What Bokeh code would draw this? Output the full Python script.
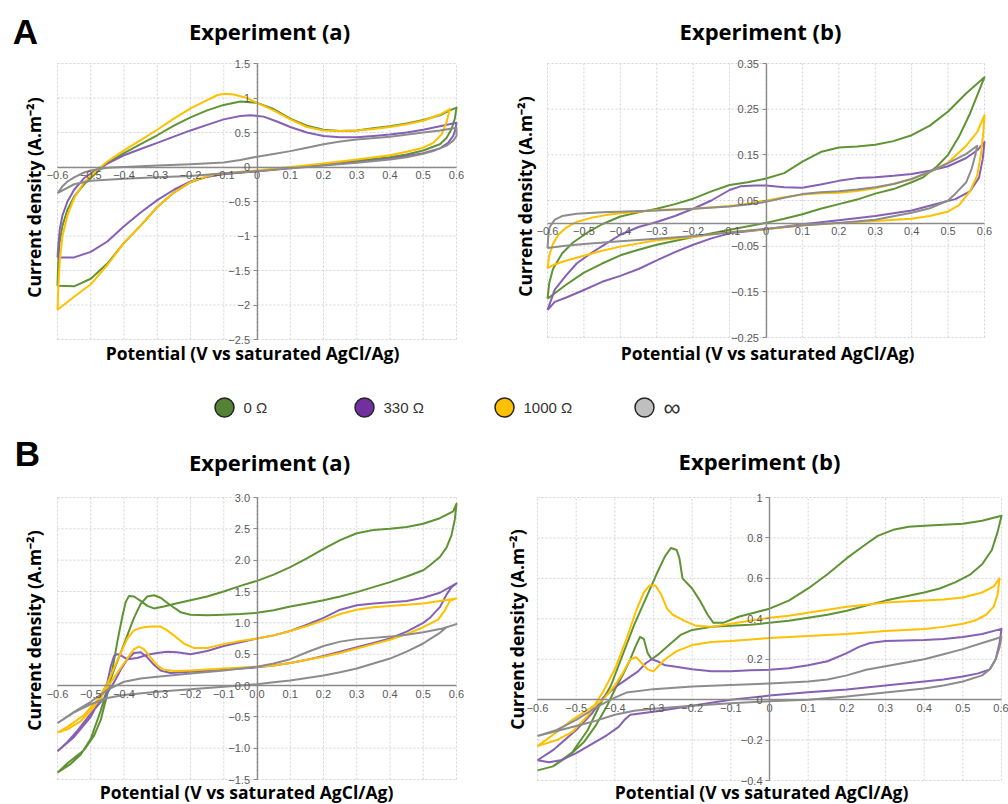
import math
from bokeh.plotting import figure
from bokeh.models import Range1d, FixedTicker, Label, ColumnDataSource
from bokeh.layouts import column, row
from bokeh.embed import file_html
from bokeh.resources import INLINE
from bokeh.core.properties import value

# ---------------- data ----------------
series_names = ["0 Ω", "330 Ω", "1000 Ω", "∞"]
line_colors = ["#5f9334", "#8660b4", "#ffc000", "#8c8c8c"]
marker_colors = ["#548235", "#7030a0", "#ffc000", "#bfbfbf"]

x_ticks = [-0.6, -0.5, -0.4, -0.3, -0.2, -0.1, 0.0, 0.1, 0.2, 0.3, 0.4, 0.5, 0.6]
x_labels_int = ["−0.6", "−0.5", "−0.4", "−0.3", "−0.2", "−0.1", "0", "0.1", "0.2", "0.3", "0.4", "0.5", "0.6"]
x_labels_dec = ["−0.6", "−0.5", "−0.4", "−0.3", "−0.2", "−0.1", "0.0", "0.1", "0.2", "0.3", "0.4", "0.5", "0.6"]

aa_y_ticks = [-2.5, -2.0, -1.5, -1.0, -0.5, 0.0, 0.5, 1.0, 1.5]
aa_y_labels = ["−2.5", "−2", "−1.5", "−1", "−0.5", "0", "0.5", "1", "1.5"]
ab_y_ticks = [-0.25, -0.15, -0.05, 0.05, 0.15, 0.25, 0.35]
ab_y_labels = ["−0.25", "−0.15", "−0.05", "0.05", "0.15", "0.25", "0.35"]
ba_y_ticks = [-1.5, -1.0, -0.5, 0.0, 0.5, 1.0, 1.5, 2.0, 2.5, 3.0]
ba_y_labels = ["−1.5", "−1.0", "−0.5", "0.0", "0.5", "1.0", "1.5", "2.0", "2.5", "3.0"]
bb_y_ticks = [-0.4, -0.2, 0.0, 0.2, 0.4, 0.6, 0.8, 1.0]
bb_y_labels = ["−0.4", "−0.2", "0", "0.2", "0.4", "0.6", "0.8", "1"]

# Panel A, experiment (a): (potential V, current density A/m2) around each loop
aa_0ohm = [(-0.6, -1.72), (-0.598, -1.4), (-0.594, -1.1), (-0.585, -0.85), (-0.57, -0.62), (-0.55, -0.43),
           (-0.52, -0.25), (-0.48, -0.07), (-0.45, 0.06), (-0.4, 0.2), (-0.35, 0.33), (-0.3, 0.46), (-0.25, 0.6),
           (-0.2, 0.72), (-0.15, 0.82), (-0.1, 0.9), (-0.05, 0.95), (0.0, 0.93), (0.05, 0.84), (0.1, 0.7),
           (0.15, 0.6), (0.2, 0.54), (0.25, 0.52), (0.3, 0.53), (0.35, 0.56), (0.4, 0.59), (0.45, 0.63),
           (0.5, 0.68), (0.55, 0.75), (0.58, 0.82), (0.6, 0.86), (0.595, 0.7), (0.585, 0.55), (0.57, 0.42),
           (0.55, 0.33), (0.5, 0.24), (0.45, 0.18), (0.4, 0.14), (0.3, 0.09), (0.2, 0.04), (0.1, -0.01),
           (0.0, -0.06), (-0.1, -0.1), (-0.15, -0.14), (-0.2, -0.22), (-0.25, -0.37), (-0.3, -0.58),
           (-0.35, -0.85), (-0.4, -1.1), (-0.45, -1.4), (-0.5, -1.62), (-0.55, -1.73), (-0.6, -1.72)]
aa_330ohm = [(-0.6, -1.31), (-0.597, -1.1), (-0.593, -0.9), (-0.585, -0.7), (-0.57, -0.5), (-0.55, -0.33),
             (-0.52, -0.16), (-0.48, -0.03), (-0.45, 0.05), (-0.4, 0.17), (-0.35, 0.26), (-0.3, 0.35),
             (-0.25, 0.44), (-0.2, 0.53), (-0.15, 0.61), (-0.1, 0.69), (-0.05, 0.74), (-0.02, 0.75),
             (0.02, 0.73), (0.06, 0.66), (0.1, 0.58), (0.15, 0.5), (0.2, 0.45), (0.25, 0.43), (0.3, 0.43),
             (0.35, 0.45), (0.4, 0.47), (0.45, 0.5), (0.5, 0.54), (0.55, 0.59), (0.6, 0.64), (0.597, 0.55),
             (0.59, 0.45), (0.575, 0.35), (0.55, 0.27), (0.5, 0.2), (0.45, 0.16), (0.4, 0.12), (0.3, 0.07),
             (0.2, 0.03), (0.1, -0.01), (0.0, -0.06), (-0.1, -0.1), (-0.15, -0.14), (-0.2, -0.21),
             (-0.25, -0.33), (-0.3, -0.48), (-0.35, -0.66), (-0.4, -0.86), (-0.45, -1.08), (-0.5, -1.23),
             (-0.55, -1.31), (-0.6, -1.31)]
aa_1000ohm = [(-0.6, -2.07), (-0.597, -1.7), (-0.593, -1.35), (-0.585, -1.0), (-0.57, -0.7), (-0.55, -0.45),
              (-0.52, -0.22), (-0.48, -0.04), (-0.45, 0.08), (-0.4, 0.24), (-0.35, 0.39), (-0.3, 0.54),
              (-0.25, 0.7), (-0.2, 0.85), (-0.15, 0.97), (-0.12, 1.04), (-0.1, 1.06), (-0.07, 1.05),
              (-0.03, 1.0), (0.0, 0.93), (0.05, 0.82), (0.1, 0.69), (0.15, 0.58), (0.2, 0.53), (0.25, 0.52),
              (0.3, 0.53), (0.35, 0.55), (0.4, 0.58), (0.45, 0.62), (0.5, 0.67), (0.55, 0.76), (0.58, 0.84),
              (0.57, 0.65), (0.555, 0.47), (0.53, 0.35), (0.5, 0.28), (0.45, 0.22), (0.4, 0.17), (0.3, 0.11),
              (0.2, 0.05), (0.1, 0.0), (0.0, -0.05), (-0.1, -0.09), (-0.15, -0.13), (-0.2, -0.22),
              (-0.25, -0.37), (-0.3, -0.58), (-0.35, -0.85), (-0.4, -1.1), (-0.45, -1.42), (-0.5, -1.7),
              (-0.55, -1.88), (-0.6, -2.07)]
aa_inf = [(-0.6, -0.38), (-0.585, -0.28), (-0.57, -0.21), (-0.55, -0.15), (-0.52, -0.08), (-0.5, -0.05),
          (-0.45, -0.01), (-0.4, 0.0), (-0.3, 0.02), (-0.2, 0.04), (-0.1, 0.065), (-0.05, 0.1), (0.0, 0.15),
          (0.05, 0.19), (0.1, 0.23), (0.15, 0.28), (0.2, 0.33), (0.25, 0.37), (0.3, 0.4), (0.4, 0.44),
          (0.5, 0.5), (0.55, 0.53), (0.6, 0.57), (0.6, 0.45), (0.59, 0.38), (0.57, 0.31), (0.53, 0.23),
          (0.5, 0.19), (0.45, 0.14), (0.4, 0.11), (0.3, 0.06), (0.2, 0.02), (0.1, -0.02), (0.0, -0.06),
          (-0.1, -0.09), (-0.2, -0.13), (-0.3, -0.15), (-0.4, -0.17), (-0.5, -0.2), (-0.55, -0.25),
          (-0.6, -0.38)]

# Panel A, experiment (b)
ab_0ohm = [(-0.6, -0.165), (-0.595, -0.13), (-0.585, -0.1), (-0.56, -0.066), (-0.53, -0.042), (-0.49, -0.02),
           (-0.45, -0.002), (-0.4, 0.015), (-0.35, 0.024), (-0.3, 0.032), (-0.25, 0.042), (-0.2, 0.054),
           (-0.15, 0.07), (-0.1, 0.084), (-0.05, 0.09), (0.0, 0.098), (0.05, 0.11), (0.1, 0.135),
           (0.15, 0.156), (0.2, 0.166), (0.25, 0.168), (0.3, 0.172), (0.35, 0.18), (0.4, 0.193),
           (0.45, 0.214), (0.5, 0.245), (0.55, 0.285), (0.6, 0.32), (0.585, 0.29), (0.56, 0.24), (0.53, 0.19),
           (0.5, 0.15), (0.47, 0.125), (0.43, 0.1), (0.4, 0.09), (0.35, 0.075), (0.3, 0.065), (0.25, 0.052),
           (0.2, 0.042), (0.15, 0.032), (0.1, 0.02), (0.05, 0.01), (0.0, 0.001), (-0.1, -0.014),
           (-0.2, -0.03), (-0.3, -0.047), (-0.35, -0.058), (-0.4, -0.07), (-0.45, -0.088), (-0.5, -0.108),
           (-0.55, -0.135), (-0.6, -0.165)]
ab_330ohm = [(-0.6, -0.19), (-0.58, -0.145), (-0.55, -0.115), (-0.52, -0.088), (-0.48, -0.065),
             (-0.44, -0.045), (-0.4, -0.025), (-0.35, -0.008), (-0.3, 0.003), (-0.25, 0.016), (-0.2, 0.032),
             (-0.15, 0.05), (-0.1, 0.073), (-0.07, 0.081), (-0.03, 0.083), (0.0, 0.083), (0.05, 0.079),
             (0.1, 0.078), (0.15, 0.085), (0.2, 0.093), (0.25, 0.099), (0.3, 0.101), (0.35, 0.104),
             (0.4, 0.108), (0.45, 0.115), (0.5, 0.125), (0.55, 0.143), (0.58, 0.16), (0.6, 0.178),
             (0.595, 0.14), (0.585, 0.1), (0.56, 0.07), (0.52, 0.053), (0.47, 0.043), (0.4, 0.028),
             (0.3, 0.016), (0.2, 0.007), (0.1, -0.002), (0.0, -0.013), (-0.1, -0.022), (-0.15, -0.033),
             (-0.2, -0.047), (-0.25, -0.063), (-0.3, -0.081), (-0.35, -0.1), (-0.4, -0.115), (-0.45, -0.128),
             (-0.5, -0.146), (-0.55, -0.163), (-0.58, -0.172), (-0.6, -0.19)]
ab_1000ohm = [(-0.6, -0.098), (-0.595, -0.07), (-0.585, -0.045), (-0.57, -0.025), (-0.55, -0.01),
              (-0.52, 0.003), (-0.48, 0.012), (-0.44, 0.018), (-0.4, 0.022), (-0.3, 0.029), (-0.2, 0.032),
              (-0.1, 0.038), (-0.05, 0.043), (0.0, 0.05), (0.05, 0.057), (0.1, 0.063), (0.15, 0.066),
              (0.2, 0.067), (0.25, 0.071), (0.3, 0.077), (0.35, 0.086), (0.4, 0.097), (0.45, 0.112),
              (0.5, 0.133), (0.55, 0.17), (0.58, 0.2), (0.6, 0.237), (0.597, 0.2), (0.59, 0.15),
              (0.58, 0.105), (0.56, 0.07), (0.53, 0.04), (0.5, 0.026), (0.45, 0.016), (0.4, 0.01),
              (0.3, 0.005), (0.2, 0.001), (0.1, -0.004), (0.0, -0.013), (-0.1, -0.019), (-0.2, -0.03),
              (-0.3, -0.037), (-0.4, -0.051), (-0.45, -0.06), (-0.5, -0.071), (-0.55, -0.082), (-0.58, -0.09),
              (-0.6, -0.098)]
ab_inf = [(-0.6, -0.054), (-0.598, -0.03), (-0.594, -0.008), (-0.58, 0.008), (-0.56, 0.016), (-0.52, 0.021),
          (-0.45, 0.024), (-0.3, 0.028), (-0.2, 0.032), (-0.1, 0.037), (-0.05, 0.041), (0.0, 0.047),
          (0.05, 0.056), (0.1, 0.064), (0.15, 0.068), (0.2, 0.07), (0.25, 0.074), (0.3, 0.079),
          (0.35, 0.086), (0.4, 0.097), (0.45, 0.113), (0.5, 0.132), (0.55, 0.152), (0.58, 0.17),
          (0.575, 0.15), (0.565, 0.12), (0.55, 0.09), (0.52, 0.065), (0.5, 0.05), (0.45, 0.033),
          (0.4, 0.023), (0.3, 0.008), (0.2, 0.001), (0.1, -0.005), (0.0, -0.012), (-0.1, -0.02),
          (-0.2, -0.028), (-0.3, -0.034), (-0.4, -0.039), (-0.5, -0.045), (-0.55, -0.049), (-0.6, -0.054)]

# Panel B, experiment (a)
ba_0ohm = [(-0.6, -1.39), (-0.57, -1.24), (-0.52, -1.03), (-0.49, -0.8), (-0.47, -0.55), (-0.45, -0.13),
           (-0.435, 0.25), (-0.42, 0.7), (-0.405, 1.1), (-0.395, 1.33), (-0.385, 1.43), (-0.37, 1.42),
           (-0.35, 1.35), (-0.33, 1.27), (-0.31, 1.23), (-0.28, 1.26), (-0.25, 1.3), (-0.2, 1.36),
           (-0.15, 1.42), (-0.1, 1.5), (-0.05, 1.59), (0.0, 1.67), (0.05, 1.77), (0.1, 1.89), (0.15, 2.03),
           (0.2, 2.18), (0.25, 2.32), (0.3, 2.43), (0.35, 2.48), (0.4, 2.5), (0.45, 2.53), (0.5, 2.58),
           (0.55, 2.67), (0.59, 2.78), (0.6, 2.9), (0.595, 2.65), (0.585, 2.4), (0.57, 2.2), (0.55, 2.05),
           (0.52, 1.92), (0.5, 1.84), (0.45, 1.74), (0.4, 1.65), (0.35, 1.57), (0.3, 1.49), (0.25, 1.42),
           (0.2, 1.36), (0.15, 1.31), (0.1, 1.26), (0.05, 1.2), (0.0, 1.16), (-0.05, 1.14), (-0.1, 1.13),
           (-0.15, 1.12), (-0.2, 1.13), (-0.23, 1.17), (-0.26, 1.28), (-0.29, 1.4), (-0.31, 1.44),
           (-0.33, 1.42), (-0.35, 1.3), (-0.37, 1.08), (-0.39, 0.8), (-0.41, 0.52), (-0.43, 0.25),
           (-0.45, -0.05), (-0.47, -0.4), (-0.5, -0.85), (-0.53, -1.1), (-0.56, -1.25), (-0.6, -1.39)]
ba_330ohm = [(-0.6, -1.05), (-0.55, -0.82), (-0.5, -0.5), (-0.47, -0.2), (-0.45, 0.05), (-0.44, 0.3),
             (-0.43, 0.47), (-0.42, 0.5), (-0.41, 0.48), (-0.39, 0.42), (-0.36, 0.44), (-0.33, 0.49),
             (-0.3, 0.52), (-0.27, 0.54), (-0.24, 0.53), (-0.2, 0.5), (-0.15, 0.55), (-0.1, 0.63),
             (-0.05, 0.69), (0.0, 0.75), (0.05, 0.8), (0.1, 0.87), (0.15, 0.97), (0.2, 1.08), (0.25, 1.21),
             (0.3, 1.28), (0.35, 1.31), (0.4, 1.33), (0.45, 1.35), (0.5, 1.4), (0.55, 1.48), (0.6, 1.63),
             (0.585, 1.57), (0.57, 1.45), (0.55, 1.25), (0.52, 1.08), (0.5, 1.0), (0.45, 0.86), (0.4, 0.75),
             (0.35, 0.68), (0.3, 0.61), (0.25, 0.54), (0.2, 0.47), (0.15, 0.41), (0.1, 0.36), (0.05, 0.32),
             (0.0, 0.29), (-0.1, 0.25), (-0.2, 0.22), (-0.26, 0.2), (-0.29, 0.24), (-0.31, 0.33),
             (-0.33, 0.45), (-0.35, 0.53), (-0.37, 0.52), (-0.39, 0.42), (-0.41, 0.25), (-0.43, 0.05),
             (-0.46, -0.2), (-0.5, -0.45), (-0.54, -0.72), (-0.57, -0.9), (-0.6, -1.05)]
ba_1000ohm = [(-0.6, -0.75), (-0.57, -0.66), (-0.52, -0.47), (-0.48, -0.23), (-0.45, 0.03), (-0.42, 0.4),
              (-0.39, 0.75), (-0.37, 0.88), (-0.35, 0.92), (-0.32, 0.94), (-0.29, 0.94), (-0.27, 0.88),
              (-0.25, 0.8), (-0.22, 0.67), (-0.19, 0.6), (-0.15, 0.6), (-0.1, 0.66), (-0.05, 0.71),
              (0.0, 0.75), (0.05, 0.8), (0.1, 0.87), (0.15, 0.95), (0.2, 1.04), (0.25, 1.14), (0.3, 1.21),
              (0.35, 1.25), (0.4, 1.27), (0.45, 1.29), (0.5, 1.31), (0.55, 1.35), (0.6, 1.39), (0.58, 1.35),
              (0.565, 1.2), (0.545, 1.05), (0.5, 0.93), (0.45, 0.82), (0.4, 0.73), (0.35, 0.66), (0.3, 0.59),
              (0.25, 0.52), (0.2, 0.46), (0.15, 0.41), (0.1, 0.36), (0.05, 0.32), (0.0, 0.3), (-0.1, 0.27),
              (-0.2, 0.24), (-0.25, 0.23), (-0.28, 0.25), (-0.3, 0.32), (-0.32, 0.45), (-0.34, 0.58),
              (-0.355, 0.62), (-0.37, 0.58), (-0.39, 0.43), (-0.41, 0.28), (-0.44, 0.05), (-0.47, -0.2),
              (-0.5, -0.4), (-0.53, -0.57), (-0.57, -0.7), (-0.6, -0.75)]
ba_inf = [(-0.6, -0.6), (-0.55, -0.42), (-0.5, -0.26), (-0.45, -0.07), (-0.4, 0.06), (-0.35, 0.11),
          (-0.3, 0.14), (-0.2, 0.19), (-0.1, 0.24), (0.0, 0.3), (0.05, 0.35), (0.1, 0.42), (0.15, 0.53),
          (0.2, 0.63), (0.25, 0.7), (0.3, 0.74), (0.35, 0.76), (0.4, 0.78), (0.45, 0.81), (0.5, 0.85),
          (0.55, 0.9), (0.6, 0.98), (0.57, 0.93), (0.55, 0.84), (0.52, 0.74), (0.5, 0.67), (0.45, 0.54),
          (0.4, 0.43), (0.35, 0.35), (0.3, 0.27), (0.25, 0.21), (0.2, 0.16), (0.15, 0.12), (0.1, 0.08),
          (0.05, 0.05), (0.0, 0.02), (-0.1, -0.02), (-0.2, -0.06), (-0.3, -0.1), (-0.4, -0.15),
          (-0.45, -0.2), (-0.5, -0.3), (-0.55, -0.43), (-0.6, -0.6)]

# Panel B, experiment (b)
bb_0ohm = [(-0.6, -0.35), (-0.56, -0.33), (-0.51, -0.26), (-0.47, -0.15), (-0.44, -0.03), (-0.41, 0.07),
           (-0.38, 0.22), (-0.35, 0.37), (-0.32, 0.5), (-0.29, 0.63), (-0.27, 0.71), (-0.255, 0.75),
           (-0.24, 0.74), (-0.233, 0.7), (-0.225, 0.6), (-0.2, 0.55), (-0.18, 0.49), (-0.16, 0.42),
           (-0.145, 0.38), (-0.12, 0.38), (-0.08, 0.41), (-0.04, 0.43), (0.0, 0.45), (0.05, 0.49),
           (0.1, 0.55), (0.15, 0.62), (0.2, 0.7), (0.25, 0.77), (0.28, 0.81), (0.32, 0.84), (0.36, 0.855),
           (0.4, 0.86), (0.45, 0.865), (0.5, 0.87), (0.55, 0.885), (0.6, 0.91), (0.59, 0.83), (0.575, 0.74),
           (0.55, 0.67), (0.52, 0.62), (0.48, 0.58), (0.44, 0.55), (0.4, 0.53), (0.35, 0.51), (0.3, 0.49),
           (0.25, 0.465), (0.2, 0.44), (0.15, 0.42), (0.1, 0.405), (0.05, 0.39), (0.0, 0.38), (-0.05, 0.37),
           (-0.1, 0.365), (-0.15, 0.36), (-0.2, 0.345), (-0.23, 0.32), (-0.26, 0.27), (-0.29, 0.22),
           (-0.305, 0.2), (-0.315, 0.23), (-0.325, 0.3), (-0.335, 0.31), (-0.345, 0.27), (-0.36, 0.2),
           (-0.38, 0.12), (-0.4, 0.05), (-0.42, -0.03), (-0.45, -0.13), (-0.48, -0.21), (-0.52, -0.28),
           (-0.56, -0.33), (-0.6, -0.35)]
bb_330ohm = [(-0.6, -0.3), (-0.56, -0.25), (-0.5, -0.15), (-0.46, -0.07), (-0.43, 0.01), (-0.4, 0.06),
             (-0.37, 0.1), (-0.34, 0.14), (-0.32, 0.18), (-0.305, 0.2), (-0.29, 0.19), (-0.27, 0.17),
             (-0.25, 0.165), (-0.2, 0.15), (-0.15, 0.14), (-0.1, 0.14), (-0.05, 0.145), (0.0, 0.148),
             (0.05, 0.155), (0.1, 0.17), (0.15, 0.19), (0.2, 0.23), (0.23, 0.26), (0.26, 0.28), (0.3, 0.29),
             (0.35, 0.293), (0.4, 0.295), (0.45, 0.3), (0.5, 0.31), (0.55, 0.325), (0.6, 0.35), (0.595, 0.28),
             (0.585, 0.2), (0.57, 0.15), (0.54, 0.13), (0.5, 0.115), (0.45, 0.1), (0.4, 0.09), (0.35, 0.08),
             (0.3, 0.07), (0.2, 0.05), (0.1, 0.037), (0.0, 0.02), (-0.05, 0.01), (-0.1, 0.0), (-0.15, -0.015),
             (-0.2, -0.03), (-0.25, -0.045), (-0.3, -0.06), (-0.34, -0.07), (-0.36, -0.075), (-0.375, -0.1),
             (-0.39, -0.135), (-0.42, -0.175), (-0.46, -0.22), (-0.5, -0.265), (-0.54, -0.3), (-0.57, -0.31),
             (-0.6, -0.3)]
bb_1000ohm = [(-0.6, -0.23), (-0.55, -0.2), (-0.51, -0.16), (-0.47, -0.08), (-0.43, 0.04), (-0.4, 0.15),
              (-0.37, 0.3), (-0.345, 0.44), (-0.325, 0.53), (-0.31, 0.565), (-0.295, 0.565), (-0.28, 0.52),
              (-0.265, 0.45), (-0.25, 0.42), (-0.22, 0.39), (-0.19, 0.365), (-0.15, 0.36), (-0.1, 0.375),
              (-0.05, 0.39), (0.0, 0.405), (0.05, 0.415), (0.1, 0.43), (0.15, 0.445), (0.2, 0.46),
              (0.25, 0.47), (0.3, 0.48), (0.35, 0.485), (0.4, 0.49), (0.45, 0.495), (0.5, 0.505),
              (0.55, 0.53), (0.58, 0.56), (0.595, 0.6), (0.59, 0.52), (0.58, 0.46), (0.56, 0.42), (0.53, 0.39),
              (0.5, 0.375), (0.45, 0.36), (0.4, 0.35), (0.3, 0.34), (0.2, 0.325), (0.1, 0.315), (0.0, 0.305),
              (-0.1, 0.29), (-0.15, 0.285), (-0.2, 0.27), (-0.24, 0.24), (-0.27, 0.2), (-0.29, 0.16),
              (-0.3, 0.14), (-0.315, 0.15), (-0.33, 0.18), (-0.345, 0.21), (-0.36, 0.2), (-0.38, 0.13),
              (-0.4, 0.07), (-0.43, 0.0), (-0.47, -0.05), (-0.51, -0.1), (-0.55, -0.16), (-0.6, -0.23)]
bb_inf = [(-0.6, -0.18), (-0.55, -0.15), (-0.5, -0.1), (-0.45, -0.04), (-0.4, 0.01), (-0.37, 0.035),
          (-0.3, 0.052), (-0.2, 0.065), (-0.1, 0.073), (0.0, 0.08), (0.1, 0.09), (0.15, 0.1), (0.2, 0.12),
          (0.25, 0.148), (0.3, 0.165), (0.35, 0.182), (0.4, 0.2), (0.45, 0.225), (0.5, 0.25), (0.55, 0.28),
          (0.6, 0.31), (0.595, 0.26), (0.585, 0.2), (0.57, 0.15), (0.55, 0.12), (0.5, 0.09), (0.45, 0.07),
          (0.4, 0.055), (0.3, 0.035), (0.2, 0.015), (0.1, 0.0), (0.0, -0.008), (-0.1, -0.018), (-0.2, -0.03),
          (-0.3, -0.045), (-0.35, -0.055), (-0.4, -0.075), (-0.45, -0.105), (-0.5, -0.13), (-0.55, -0.155),
          (-0.6, -0.18)]

TITLE_FONT = "Open Sans"
TICK_FONT = "Liberation Sans"


def add_text(p, h, text, px, py, size, angle=0.0, font=TITLE_FONT):
    # px, py: position in figure pixels measured from its top-left corner
    p.add_layout(Label(x=px, y=h - py, x_units="screen", y_units="screen", text=text, angle=angle,
                       text_font=font, text_font_size=size, text_font_style="bold",
                       text_color="#000000", text_align="center", text_baseline="middle"))


def make_panel(w, h, box, ylim, yt, yl, xl, curves, title, tpos, xpos, ypos, letter=None, lpos=None):
    left, top, right, bottom = box
    ylo, yhi = ylim
    sx = (right - left) / 1.2
    sy = (bottom - top) / (yhi - ylo)
    p = figure(width=w, height=h,
               x_range=Range1d(-0.6 - left / sx, 0.6 + (w - right) / sx),
               y_range=Range1d(ylo - (h - bottom) / sy, yhi + top / sy),
               output_backend="svg", toolbar_location=None,
               min_border_left=0, min_border_right=0, min_border_top=0, min_border_bottom=0)
    p.background_fill_color = "white"
    p.border_fill_color = "white"
    p.outline_line_color = None
    p.grid.visible = False
    # dashed grid box (tick lines, including the box edges)
    gsrc = ColumnDataSource(dict(
        x0=list(x_ticks) + [-0.6] * len(yt), x1=list(x_ticks) + [0.6] * len(yt),
        y0=[ylo] * len(x_ticks) + list(yt), y1=[yhi] * len(x_ticks) + list(yt)))
    p.segment("x0", "y0", "x1", "y1", source=gsrc, line_color="#d2d2d2", line_dash="2 2", line_width=1)
    p.xaxis.fixed_location = 0
    p.yaxis.fixed_location = 0
    p.xaxis.bounds = (-0.6, 0.6)
    p.yaxis.bounds = (ylo, yhi)
    p.xaxis.ticker = FixedTicker(ticks=x_ticks)
    p.yaxis.ticker = FixedTicker(ticks=yt)
    p.xaxis.major_label_overrides = dict(zip(x_ticks, xl))
    p.yaxis.major_label_overrides = dict(zip(yt, yl))
    p.axis.axis_line_color = "#8a8a8a"
    p.axis.axis_line_width = 1.4
    p.axis.major_tick_line_color = "#8a8a8a"
    p.axis.minor_tick_in = 0
    p.axis.minor_tick_out = 0
    p.xaxis.major_tick_in = 0
    p.xaxis.major_tick_out = 0
    p.yaxis.major_tick_in = 0
    p.yaxis.major_tick_out = 4
    p.axis.major_label_text_font = TICK_FONT
    p.axis.major_label_text_font_size = "11px"
    p.axis.major_label_text_color = "#595959"
    p.xaxis.major_label_standoff = 4
    p.yaxis.major_label_standoff = 3
    for pts, col in zip(curves, line_colors):
        src = ColumnDataSource(dict(v=[q[0] for q in pts], j=[q[1] for q in pts]))
        p.line("v", "j", source=src, line_color=col, line_width=2, line_join="round")
    add_text(p, h, title, tpos[0], tpos[1], "22px")
    add_text(p, h, "Potential (V vs saturated AgCl/Ag)", xpos[0], xpos[1], "17.5px")
    add_text(p, h, "Current density (A.m⁻²)", ypos[0], ypos[1], "17.5px", angle=math.pi / 2)
    if letter:
        add_text(p, h, letter, lpos[0], lpos[1], "35px", font="Liberation Sans")
    return p


# figure pixel boxes of the plotting area: (left, top, right, bottom)
p_aa = make_panel(504, 375, (57, 63, 456, 339), (-2.5, 1.5), aa_y_ticks, aa_y_labels, x_labels_int,
                  [aa_0ohm, aa_330ohm, aa_1000ohm, aa_inf], "Experiment (a)",
                  (269, 30), (252, 352), (33, 197), "A", (25, 31))
p_ab = make_panel(504, 375, (43, 63, 480, 337), (-0.25, 0.35), ab_y_ticks, ab_y_labels, x_labels_int,
                  [ab_0ohm, ab_330ohm, ab_1000ohm, ab_inf], "Experiment (b)",
                  (256, 30), (263, 352), (20, 196))
p_ba = make_panel(504, 379, (57, 72, 456, 354), (-1.5, 3.0), ba_y_ticks, ba_y_labels, x_labels_dec,
                  [ba_0ohm, ba_330ohm, ba_1000ohm, ba_inf], "Experiment (a)",
                  (269, 36), (246, 366), (33, 205), "B", (27, 28))
p_bb = make_panel(504, 379, (33, 72, 497, 355), (-0.4, 1.0), bb_y_ticks, bb_y_labels, x_labels_int,
                  [bb_0ohm, bb_330ohm, bb_1000ohm, bb_inf], "Experiment (b)",
                  (255, 35), (257, 366), (12, 204))

# legend strip
lg = figure(width=1008, height=50, x_range=Range1d(-1.6, 5.6), y_range=Range1d(-18, 32),
            output_backend="svg", toolbar_location=None, x_axis_location=None, y_axis_location=None,
            min_border_left=0, min_border_right=0, min_border_top=0, min_border_bottom=0)
lg.outline_line_color = None
lg.grid.visible = False
n = len(series_names)
lsrc = ColumnDataSource(dict(i=list(range(n)), y=[0] * n, name=series_names, fill=marker_colors,
                             fs=["15px"] * (n - 1) + ["24px"]))
lg.scatter("i", "y", source=lsrc, size=19, fill_color="fill", line_color="#262626", line_width=1.5)
lg.text("i", "y", text="name", source=lsrc, x_offset=19, text_baseline="middle", text_align="left",
        text_font=value("Liberation Sans"), text_font_size="fs", text_color="#333333")

layout = column(row(p_aa, p_ab), lg, row(p_ba, p_bb))
open("out.html", "w").write(file_html(layout, INLINE))
